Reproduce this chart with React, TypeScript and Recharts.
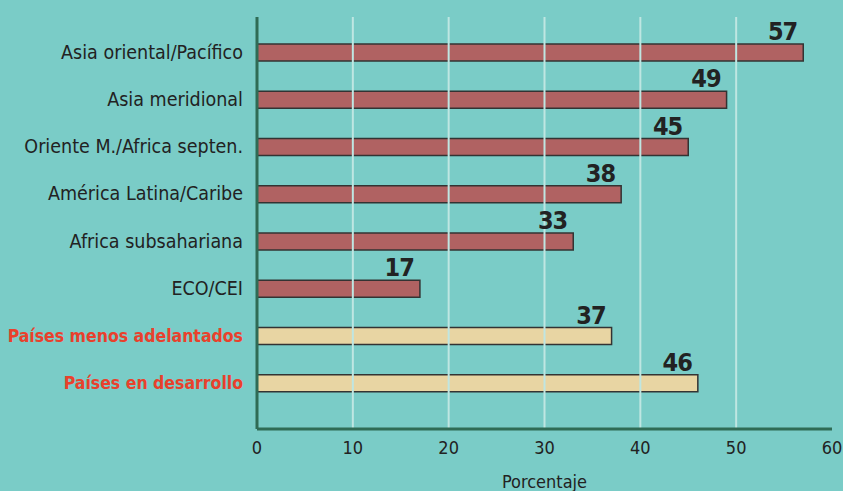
import React from "react";
import {
  BarChart,
  Bar,
  XAxis,
  YAxis,
  ReferenceLine,
  LabelList,
  Cell,
} from "recharts";

const regions = [
  "Asia oriental/Pacífico",
  "Asia meridional",
  "Oriente M./Africa septen.",
  "América Latina/Caribe",
  "Africa subsahariana",
  "ECO/CEI",
  "Países menos adelantados",
  "Países en desarrollo",
];
const values = [57, 49, 45, 38, 33, 17, 37, 46];
const highlighted = ["Países menos adelantados", "Países en desarrollo"];
const xTicks = [0, 10, 20, 30, 40, 50, 60];
const gridLines = [10, 20, 30, 40, 50];

const data = regions.map((name, i) => ({ name, value: values[i] }));

const FONT = "'Liberation Sans Narrow', 'DejaVu Sans Condensed', 'Roboto', sans-serif";

const CategoryTick = (props: any) => {
  const { x, y, payload } = props;
  const hi = highlighted.includes(payload.value);
  return (
    <text
      x={x}
      y={y}
      dy={6}
      textAnchor="end"
      fontFamily={FONT}
      fontSize={hi ? 17.5 : 19.5}
      fontWeight={hi ? 700 : 400}
      fill={hi ? "#e9402c" : "#222"}
    >
      {payload.value}
    </text>
  );
};

const ValueLabel = (props: any) => {
  const { x, y, width, value } = props;
  return (
    <text
      x={x + width - 6}
      y={y - 4}
      textAnchor="end"
      fontFamily={FONT}
      fontSize={25}
      fontWeight={700}
      letterSpacing={-1}
      fill="#222"
    >
      {value}
    </text>
  );
};

export default function App() {
  return (
    <div style={{ width: 843, height: 491, background: "#7accc7" }}>
      <style>{`body{margin:0}`}</style>
      <BarChart
        width={843}
        height={491}
        data={data}
        layout="vertical"
        margin={{ top: 17, right: 11, left: 0, bottom: 0 }}
      >
        <XAxis
          type="number"
          domain={[0, 60]}
          ticks={xTicks}
          height={62}
          tickLine={false}
          tickMargin={6}
          axisLine={{ stroke: "#2f6b55", strokeWidth: 3 }}
          tick={{ fontFamily: FONT, fontSize: 18, fill: "#222" }}
          label={{
            value: "Porcentaje",
            position: "insideBottom",
            offset: 3,
            fontFamily: FONT,
            fontSize: 18,
            fill: "#222",
          }}
        />
        <YAxis
          type="category"
          dataKey="name"
          width={257}
          tickLine={false}
          tickSize={0}
          tickMargin={14}
          interval={0}
          padding={{ top: 12, bottom: 22 }}
          axisLine={{ stroke: "#2f6b55", strokeWidth: 3 }}
          tick={<CategoryTick />}
        />
        {gridLines.map((g) => (
          <ReferenceLine key={g} x={g} stroke="#bfe6e2" strokeWidth={2} />
        ))}
        <Bar
          dataKey="value"
          barSize={17}
          stroke="#333"
          strokeWidth={1.5}
          isAnimationActive={false}
        >
          {data.map((d) => (
            <Cell
              key={d.name}
              fill={highlighted.includes(d.name) ? "#e8d5a3" : "#b06262"}
            />
          ))}
          <LabelList dataKey="value" content={<ValueLabel />} />
        </Bar>
      </BarChart>
    </div>
  );
}
